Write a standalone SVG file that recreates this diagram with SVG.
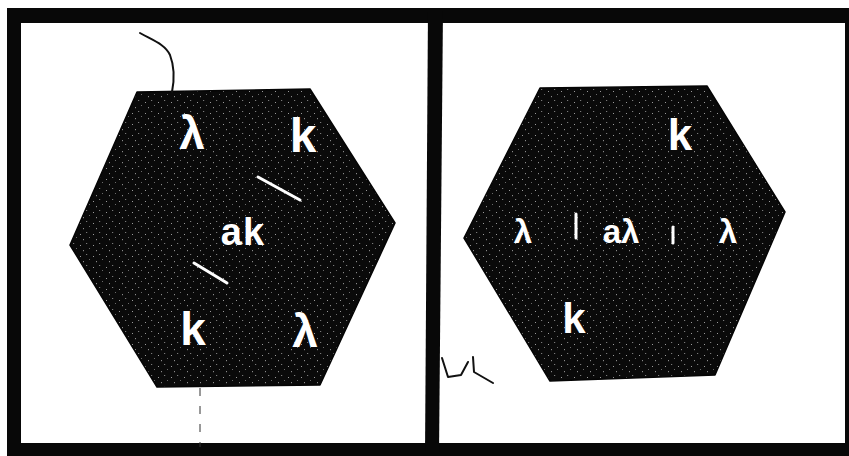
<svg xmlns="http://www.w3.org/2000/svg" width="849" height="456" viewBox="0 0 849 456">
  <style>
    .bar { fill: #080808; }
    .hex { fill: url(#speck); stroke: #050505; stroke-width: 1.5; stroke-linejoin: round; }
    .lbl { fill: #ffffff; font-family: "Liberation Sans", "DejaVu Sans", sans-serif; font-weight: bold; text-anchor: middle; }
    .tick { stroke: #ffffff; stroke-width: 3; stroke-linecap: round; }
    .ink { fill: none; stroke: #111111; stroke-width: 2; stroke-linecap: round; stroke-linejoin: round; }
  </style>
  <defs>
    <pattern id="speck" width="13" height="11" patternUnits="userSpaceOnUse">
      <rect width="13" height="11" fill="#0a0a0a"/>
      <rect x="2" y="3" width="1" height="1" fill="#9a9a9a"/>
      <rect x="8" y="1" width="1.2" height="1" fill="#7a7a7a"/>
      <rect x="5" y="8" width="1" height="1.2" fill="#8a8a8a"/>
      <rect x="11" y="6" width="1" height="1" fill="#6a6a6a"/>
    </pattern>
  </defs>
  <rect width="849" height="456" fill="#ffffff"/>

  <g id="frame">
    <rect class="bar" x="7" y="8" width="842" height="15"/>
    <rect class="bar" x="7" y="8" width="14" height="448"/>
    <rect class="bar" x="7" y="443" width="842" height="13"/>
    <rect class="bar" x="845" y="8" width="4" height="448"/>
    <polygon class="bar" points="428,8 443,8 439,456 425,456"/>
  </g>

  <g id="hex-left">
    <polygon class="hex" points="137,92 310,89 395,223 320,385 157,387 70,245"/>
    <line class="tick" x1="258" y1="177" x2="300" y2="200"/>
    <line class="tick" x1="194" y1="263" x2="227" y2="283"/>
    <text class="lbl" x="192" y="149" font-size="46">λ</text>
    <text class="lbl" x="303" y="152" font-size="48">k</text>
    <text class="lbl" x="243" y="245" font-size="38" letter-spacing="1">ak</text>
    <text class="lbl" x="193" y="345" font-size="46">k</text>
    <text class="lbl" x="305" y="347" font-size="46">λ</text>
  </g>

  <g id="hex-right">
    <polygon class="hex" points="540,88 707,86 785,212 715,375 550,381 464,238"/>
    <text class="lbl" x="680" y="150" font-size="44">k</text>
    <text class="lbl" x="523" y="243" font-size="33">λ</text>
    <line class="tick" x1="576" y1="214" x2="576" y2="238"/>
    <text class="lbl" x="621" y="243" font-size="33">aλ</text>
    <line class="tick" x1="673" y1="227" x2="673" y2="243" stroke-width="2.5"/>
    <text class="lbl" x="728" y="243" font-size="33">λ</text>
    <text class="lbl" x="574" y="333" font-size="42">k</text>
  </g>

  <g id="marks">
    <path class="ink" d="M140,33 C152,40 165,44 170,55 C175,68 174,82 172,92"/>
    <path class="ink" d="M442,358 L448,377 L461,375 L468,362"/>
    <path class="ink" d="M473,357 L474,372 L493,383"/>
    <line x1="200" y1="388" x2="200" y2="447" stroke="#333" stroke-width="1" stroke-dasharray="8,10"/>
  </g>
</svg>
